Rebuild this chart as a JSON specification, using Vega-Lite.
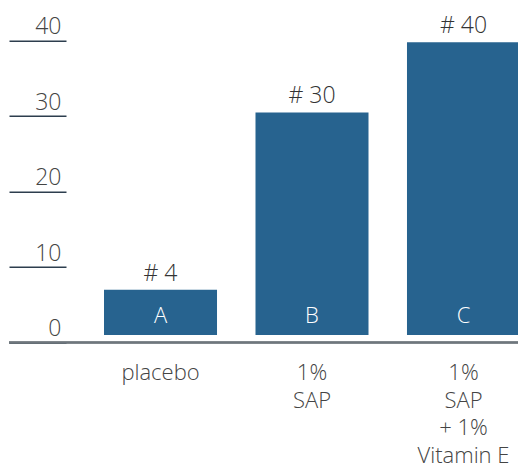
{
  "$schema": "https://vega.github.io/schema/vega-lite/v6.json",
  "width": 509,
  "height": 301.8,
  "autosize": "none",
  "padding": {"left": 9, "top": 40.7, "right": 0, "bottom": 127.5},
  "config": {"view": {"stroke": null}, "font": "Open Sans"},
  "data": {"values": [
    {"group": "placebo", "value": 7.0, "letter": "A", "count": "# 4"},
    {"group": "1%|SAP", "value": 30.5, "letter": "B", "count": "# 30"},
    {"group": "1%|SAP|+ 1%|Vitamin E", "value": 39.8, "letter": "C", "count": "# 40"}
  ]},
  "layer": [
    {
      "mark": {"type": "bar", "color": "#27638f"},
      "encoding": {
        "x": {"field": "group", "type": "nominal", "sort": null,
          "scale": {"range": [95, 511], "paddingInner": 0.254, "paddingOuter": 0},
          "axis": {"orient": "bottom", "domain": false, "ticks": false, "title": null, "labelAngle": 0,
            "labelExpr": "split(datum.label, '|')", "labelFontSize": 22, "labelFontWeight": 300,
            "labelLineHeight": 27.5, "labelColor": "#444444", "labelPadding": 20, "labelBaseline": "top"}},
        "y": {"field": "value", "type": "quantitative",
          "scale": {"domain": [0, 40], "nice": false},
          "axis": {"values": [0, 10, 20, 30, 40], "domain": false, "grid": false, "title": null,
            "tickSize": -57, "tickColor": "#2d3e4e", "tickWidth": 1.5,
            "labelAlign": "right", "labelBaseline": "alphabetic", "labelOffset": -7, "labelPadding": 5,
            "labelFontSize": 23, "labelFontWeight": 300, "labelColor": "#444444"}},
        "y2": {"datum": 1}
      }
    },
    {
      "mark": {"type": "text", "baseline": "alphabetic", "dy": -9, "fontSize": 23, "fontWeight": 300, "color": "#333333"},
      "encoding": {
        "x": {"field": "group", "type": "nominal", "sort": null},
        "y": {"field": "value", "type": "quantitative"},
        "text": {"field": "count"}
      }
    },
    {
      "mark": {"type": "text", "baseline": "alphabetic", "dy": -19.5, "fontSize": 22, "fontWeight": 300, "color": "#ffffff"},
      "encoding": {
        "x": {"field": "group", "type": "nominal", "sort": null},
        "y": {"datum": 0},
        "text": {"field": "letter"}
      }
    },
    {
      "mark": {"type": "rule", "color": "#6e767d", "strokeWidth": 2},
      "encoding": {"y": {"datum": 0}}
    }
  ]
}
